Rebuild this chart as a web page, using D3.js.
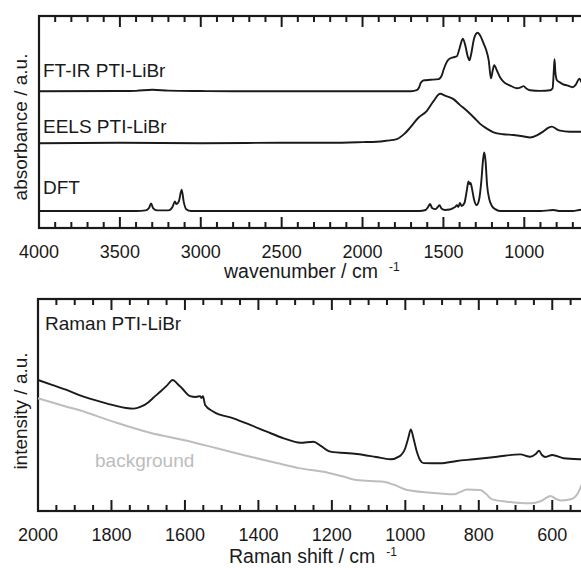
<!DOCTYPE html>
<html>
<head>
<meta charset="utf-8">
<script src="https://cdn.jsdelivr.net/npm/d3@7"></script>
<style>
  html, body { margin: 0; padding: 0; background: #fff; }
  svg { display: block; font-family: "Liberation Sans", Arial, Helvetica, sans-serif; }
</style>
</head>
<body>
<svg id="chart" width="581" height="568"></svg>
<script>
// ---- Infrared / EELS / DFT spectra: [wavenumber (cm^-1), absorbance (a.u.)] ----
const ftirSpectrum = [
  [4000,0],[3500,0.1],[3400,0.2],[3300,0.7],[3200,0.3],[3000,0.1],[2800,0],[2500,0],[1700,0],
  [1665,0.5],[1650,1.9],[1640,4],[1620,5.2],[1580,5.4],[1530,5.7],[1510,7.5],[1500,9.9],
  [1469,14.9],[1440,16],[1417,16.5],[1400,20.3],[1380,24.8],[1365,21.7],[1350,16.5],[1339,14.6],
  [1330,17],[1310,25],[1289,27.6],[1270,25.9],[1250,22.2],[1235,19.3],[1220,14.6],[1206,6.1],
  [1195,9.9],[1186,12.3],[1170,9.9],[1150,6.6],[1129,4.5],[1090,2.8],[1046,1.4],[1020,1.9],
  [1005,2.4],[985,1.2],[964,0.5],[900,0.2],[840,0.5],[825,1.4],[818,9],[813,15.1],[808,9],
  [798,5.2],[780,4.2],[760,3.3],[736,2.8],[700,1.9],[680,3.3],[660,5.9],[645,4.2],[620,3.3]
];
const eelsSpectrum = [
  [4000,0],[3500,0.2],[3000,0],[2500,0.2],[2200,0.2],[2000,0.5],[1912,0.7],[1850,1.2],
  [1788,1.9],[1740,4.5],[1706,7.3],[1655,12],[1602,15.3],[1560,20],[1520,23.3],[1490,22.4],
  [1438,20.8],[1400,18.2],[1355,15.3],[1310,12],[1273,9.1],[1230,6.8],[1190,5.1],[1130,4.2],
  [1067,3.9],[1010,3.3],[964,2.7],[920,3.8],[881,5.6],[850,7.3],[829,7.8],[800,6.6],
  [778,5.9],[720,5.4],[654,5.4],[620,5.7]
];
const dftSpectrum = [
  [4000,0],[3400,0],[3340,0.3],[3320,1.4],[3307,3.6],[3295,1.4],[3270,0.3],[3200,0.3],
  [3175,1.9],[3160,4.5],[3150,3.3],[3135,4.7],[3118,10.1],[3105,4.2],[3090,0.9],[3060,0],
  [1650,0],[1610,0.5],[1595,1.9],[1582,3.3],[1570,1.4],[1550,0.9],[1535,1.9],[1524,2.8],
  [1512,1.2],[1490,0.5],[1460,0.7],[1440,1.4],[1425,2.1],[1417,2.8],[1408,1.9],[1398,3.8],
  [1388,2.4],[1370,3.8],[1355,9.9],[1345,13.9],[1338,12.7],[1332,13.2],[1324,10.8],[1310,5.2],
  [1295,2.8],[1280,5.2],[1265,14.6],[1255,24.1],[1248,27.6],[1240,24],[1230,12.3],[1215,5.2],
  [1200,2.4],[1180,0.9],[1150,0],[1000,0],[900,0],[850,0.3],[820,0.5],[780,0],[700,0],
  [660,0.5],[620,0.9]
];
// vertical offsets used to stack the three traces
const irTraces = [
  { label: "FT-IR PTI-LiBr", data: ftirSpectrum, offset: 64.5 },
  { label: "EELS PTI-LiBr", data: eelsSpectrum, offset: 40 },
  { label: "DFT",           data: dftSpectrum,  offset: 8 }
];
const irMajorTicks = [4000, 3500, 3000, 2500, 2000, 1500, 1000];
const irMinorTicks = d3.range(4000, 599, -100);

// ---- Raman spectrum and background: [Raman shift (cm^-1), intensity (a.u.)] ----
const ramanSpectrum = [
  [2000,61.8],[1960,59.4],[1922,57.1],[1880,54.2],[1831,51.6],[1790,49.7],[1760,48.6],
  [1740,48.3],[1720,49.2],[1700,51.2],[1686,53.4],[1665,56.6],[1650,59],[1633,61.8],[1620,59.9],[1608,57.9],
  [1586,54.2],[1570,53.8],[1559,54.2],[1555,53.3],[1551,54.2],[1545,50],[1522,46.8],
  [1468,43.7],[1422,40.6],[1377,37.4],[1331,34.3],[1286,32.2],[1250,32.7],[1230,30.7],
  [1204,28],[1132,26.9],[1080,25.5],[1041,24.4],[1015,25.9],[1000,29.7],[992,34.4],
  [985,38.5],[978,34.4],[970,28.8],[960,24.1],[950,22.6],[905,22.5],[860,23.6],[814,24.4],
  [750,25.6],[687,26.7],[660,25.6],[645,26.9],[636,28.4],[628,26.4],[618,25.5],[600,26.4],
  [569,24.9],[520,24.4],[500,24.3]
];
const ramanBackground = [
  [2000,53.2],[1922,49.2],[1870,46.6],[1860,46.0],[1786,41.6],[1695,36.9],[1604,33.5],
  [1513,29.6],[1422,25.6],[1350,22.6],[1286,20.1],[1222,18.5],[1175,16.5],[1132,14.6],
  [1059,13.8],[1030,12.3],[995,9.9],[905,8.3],[868,7.9],[850,9],[832,10.2],[796,9.9],
  [780,8],[764,5.5],[723,4.4],[660,3.6],[630,4.7],[605,7.1],[590,5.7],[578,4.9],[550,5.5],
  [530,8.5],[520,12.3],[505,17]
];
const ramanMajorTicks = [2000, 1800, 1600, 1400, 1200, 1000, 800, 600];
const ramanMinorTicks = d3.range(2000, 499, -50);

// ---- layout ----
const svg = d3.select("#chart");
const ink = "#1a1a1a";
const grey = "#bdbdbd";

const upperBox = { left: 39, right: 589, top: 16, bottom: 228 };
const lowerBox = { left: 38, right: 589, top: 299, bottom: 511 };

const xIR = d3.scaleLinear().domain([4000, 600]).range([upperBox.left, upperBox.right]);
const yIR = d3.scaleLinear().domain([0, 100]).range([upperBox.bottom, upperBox.top]);
const xRa = d3.scaleLinear().domain([2000, 500]).range([lowerBox.left, lowerBox.right]);
const yRa = d3.scaleLinear().domain([0, 100]).range([lowerBox.bottom, lowerBox.top]);

function frame(p) {
  svg.append("rect")
    .attr("x", p.left).attr("y", p.top)
    .attr("width", p.right - p.left).attr("height", p.bottom - p.top)
    .attr("fill", "none").attr("stroke", ink).attr("stroke-width", 2.2);
}

// inward tick marks on the top and bottom edges, labels below the bottom edge
function ticks(x, p, major, minor) {
  const g = svg.append("g").attr("stroke", ink).attr("stroke-width", 2);
  const marks = minor.map(v => ({ v, len: major.includes(v) ? 11 : 6 }));
  g.selectAll("line.b").data(marks).join("line").attr("class", "b")
    .attr("x1", d => x(d.v)).attr("x2", d => x(d.v))
    .attr("y1", p.bottom).attr("y2", d => p.bottom - d.len);
  g.selectAll("line.t").data(marks).join("line").attr("class", "t")
    .attr("x1", d => x(d.v)).attr("x2", d => x(d.v))
    .attr("y1", p.top).attr("y2", d => p.top + d.len);
  svg.append("g").selectAll("text").data(major).join("text")
    .attr("x", d => x(d)).attr("y", p.bottom + 29.5)
    .attr("text-anchor", "middle")
    .attr("font-size", 18).attr("fill", ink)
    .text(d3.format("d"));
}

function xTitle(text, x0, baseline) {
  const t = svg.append("text")
    .attr("x", x0).attr("y", baseline)
    .attr("font-size", 19.5).attr("fill", ink);
  t.append("tspan").text(text);
  t.append("tspan").attr("dx", 11).attr("dy", -7).attr("font-size", 12).text("-1");
}

function yTitle(text, cy) {
  svg.append("text")
    .attr("transform", `translate(27,${cy}) rotate(-90)`)
    .attr("text-anchor", "middle")
    .attr("font-size", 19).attr("fill", ink)
    .text(text);
}

// ---- upper panel: FT-IR, EELS, DFT ----
frame(upperBox);
ticks(xIR, upperBox, irMajorTicks, irMinorTicks);

irTraces.forEach(tr => {
  const line = d3.line()
    .x(d => xIR(d[0]))
    .y(d => yIR(d[1] + tr.offset))
    .curve(d3.curveMonotoneX);
  svg.append("path").datum(tr.data)
    .attr("d", line)
    .attr("fill", "none").attr("stroke", ink)
    .attr("stroke-width", 1.9).attr("stroke-linejoin", "round");
});

const irLabelY = { "FT-IR PTI-LiBr": 77, "EELS PTI-LiBr": 133, "DFT": 194 };
irTraces.forEach(tr => {
  svg.append("text").attr("x", 43).attr("y", irLabelY[tr.label])
    .attr("font-size", 19).attr("fill", ink).text(tr.label);
});

yTitle("absorbance / a.u.", 127);
xTitle("wavenumber / cm", 224, 278);

// ---- lower panel: Raman ----
frame(lowerBox);
ticks(xRa, lowerBox, ramanMajorTicks, ramanMinorTicks);

const ramanLine = d3.line()
  .x(d => xRa(d[0])).y(d => yRa(d[1]))
  .curve(d3.curveMonotoneX);

svg.append("path").datum(ramanBackground)
  .attr("d", ramanLine).attr("fill", "none")
  .attr("stroke", grey).attr("stroke-width", 2);
svg.append("path").datum(ramanSpectrum)
  .attr("d", ramanLine).attr("fill", "none")
  .attr("stroke", ink).attr("stroke-width", 1.9).attr("stroke-linejoin", "round");

svg.append("text").attr("x", 45).attr("y", 330)
  .attr("font-size", 19).attr("fill", ink).text("Raman PTI-LiBr");
svg.append("text").attr("x", 95).attr("y", 467)
  .attr("font-size", 19).attr("fill", grey).text("background");

yTitle("intensity / a.u.", 411);
xTitle("Raman shift / cm", 229, 563);
</script>
</body>
</html>
